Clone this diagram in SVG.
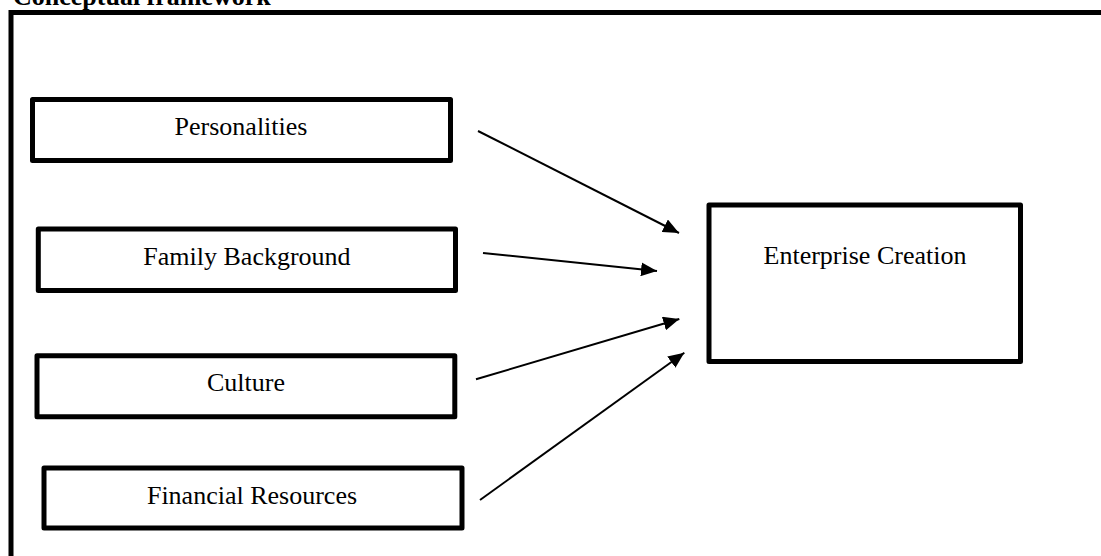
<svg xmlns="http://www.w3.org/2000/svg" width="1101" height="556" viewBox="0 0 1101 556">
<style>
.box{fill:#fff;stroke:#000;stroke-width:5;stroke-linejoin:round}
.lbl{font-family:"Liberation Serif","Times New Roman",serif;font-size:26px;fill:#000;text-anchor:middle}
.title{font-family:"Liberation Serif","Times New Roman",serif;font-size:26px;font-weight:bold;fill:#000}
.arr{stroke:#000;stroke-width:2;fill:none;marker-end:url(#ah)}
</style>
<defs>
<marker id="ah" markerUnits="userSpaceOnUse" markerWidth="18" markerHeight="14" refX="16" refY="7" orient="auto">
<path d="M0,0 L16,7 L0,14 Z" fill="#000"/>
</marker>
</defs>
<rect width="1101" height="556" fill="#fff"/>
<text class="title" x="13" y="5">Conceptual framework</text>
<path d="M11,556 L11,12.5 L1101,12.5" fill="none" stroke="#000" stroke-width="5"/>
<g id="personalities">
<rect class="box" x="32.5" y="99.5" width="418" height="61"/>
<text class="lbl" x="241" y="135">Personalities</text>
</g>
<g id="family-background">
<rect class="box" x="38.3" y="229" width="417.2" height="61.5"/>
<text class="lbl" x="247" y="265">Family Background</text>
</g>
<g id="culture">
<rect class="box" x="37" y="355.7" width="417.8" height="61"/>
<text class="lbl" x="246" y="391">Culture</text>
</g>
<g id="financial-resources">
<rect class="box" x="44" y="468" width="418" height="60"/>
<text class="lbl" x="252" y="503.5">Financial Resources</text>
</g>
<g id="enterprise-creation">
<rect class="box" x="709" y="205" width="311.5" height="156.5"/>
<text class="lbl" x="865" y="264">Enterprise Creation</text>
</g>
<g id="connectors">
<line class="arr" x1="478" y1="131" x2="679" y2="233"/>
<line class="arr" x1="483" y1="253" x2="657" y2="271"/>
<line class="arr" x1="476" y1="379.3" x2="679.3" y2="319"/>
<line class="arr" x1="480" y1="500" x2="684.3" y2="352.7"/>
</g>
</svg>
